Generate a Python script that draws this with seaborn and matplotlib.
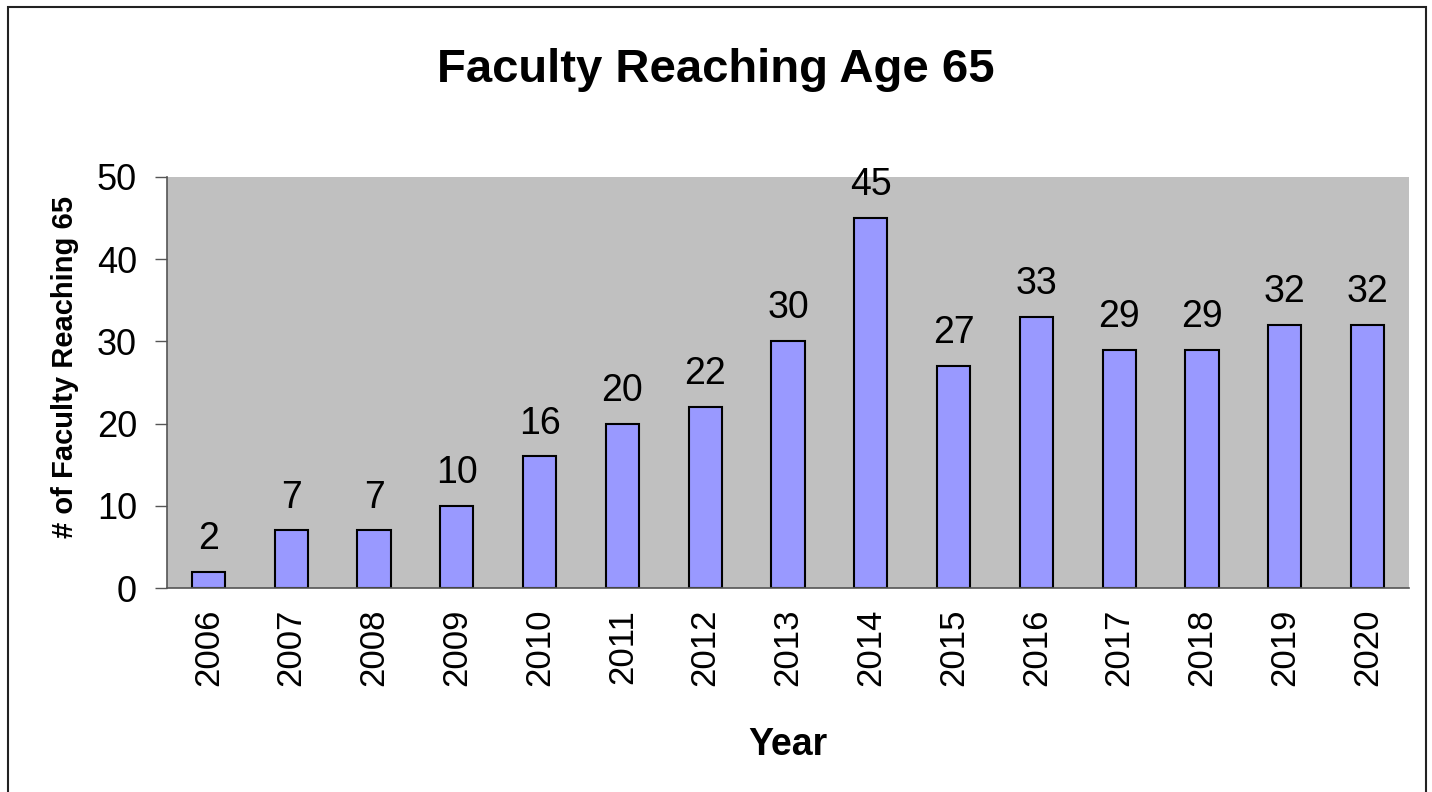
import matplotlib
matplotlib.use('Agg')
import matplotlib.pyplot as plt
import pandas as pd
import seaborn as sns
from matplotlib.patches import Rectangle

# Data
years = ['2006', '2007', '2008', '2009', '2010', '2011', '2012', '2013',
         '2014', '2015', '2016', '2017', '2018', '2019', '2020']
faculty = [2, 7, 7, 10, 16, 20, 22, 30, 45, 27, 33, 29, 29, 32, 32]

df = pd.DataFrame({'year': years, 'count': faculty})

sns.set_style('white')
plt.rcParams['font.family'] = ['Liberation Sans', 'DejaVu Sans']
plt.rcParams['text.color'] = 'black'
plt.rcParams['axes.labelcolor'] = 'black'
plt.rcParams['xtick.color'] = 'black'
plt.rcParams['ytick.color'] = 'black'

fig = plt.figure(figsize=(14.32, 7.92), dpi=100)
ax = fig.add_axes([167 / 1432, 1 - 588 / 792, (1409 - 167) / 1432, (588 - 177) / 792])

sns.barplot(data=df, x='year', y='count', ax=ax, color='#9999FF',
            saturation=1, width=0.4, edgecolor='black', linewidth=1.5)

ax.set_facecolor('#C0C0C0')
ax.set_ylim(0, 50)
ax.set_xlim(-0.5, len(years) - 0.5)
ax.set_yticks([0, 10, 20, 30, 40, 50])
ax.tick_params(axis='y', labelsize=26, length=8.6, width=1, color='#555555',
               labelcolor='black', direction='out', left=True, pad=13)
ax.tick_params(axis='x', labelsize=25, length=0, pad=15, labelcolor='black')
for lab in ax.get_xticklabels():
    lab.set_rotation(90)

for s in ['top', 'right']:
    ax.spines[s].set_visible(False)
for s in ['left', 'bottom']:
    ax.spines[s].set_color('#555555')
    ax.spines[s].set_linewidth(1.2)

# value labels
for i, v in enumerate(faculty):
    ax.annotate(str(v), (i, v), xytext=(0, 16.5), textcoords='offset points',
                ha='center', va='baseline', fontsize=27, color='black')

ax.set_xlabel('Year', fontsize=27, fontweight='bold')
ax.xaxis.set_label_coords(0.5, -0.337)
ax.set_ylabel('# of Faculty Reaching 65', fontsize=21, fontweight='bold')
ax.yaxis.set_label_coords(-0.082, 0.538)
ax.yaxis.label.set_verticalalignment('center')

fig.text(0.5, 1 - 82 / 792, 'Faculty Reaching Age 65', ha='center', va='baseline',
         fontsize=34, fontweight='bold', color='black')

# outer chart frame (bottom edge runs off the image)
fig.patches.append(Rectangle((8 / 1432, -0.05), (1426 - 8) / 1432, 1.05 - 7 / 792,
                             transform=fig.transFigure, fill=False,
                             edgecolor='#222222', linewidth=1.5))

fig.savefig('out.png', dpi=100)
